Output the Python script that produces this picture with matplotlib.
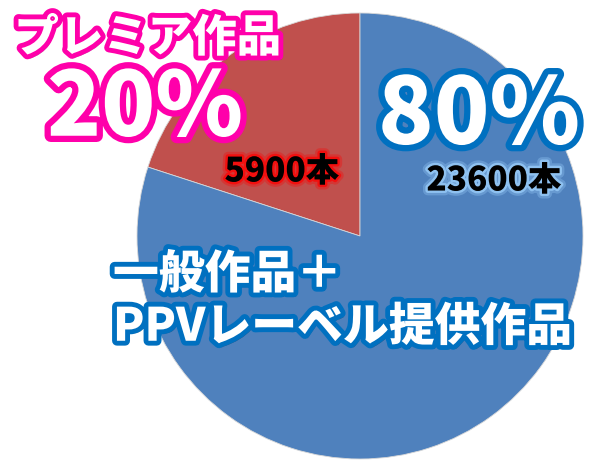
import matplotlib.pyplot as plt
import matplotlib.patheffects as pe

plt.rcParams['font.family'] = ['Noto Sans CJK JP', 'DejaVu Sans']

labels = ["一般作品＋\nPPVレーベル提供作品", "プレミア作品"]
counts = [23600, 5900]
colors = ["#4F81BD", "#C0504D"]

total = sum(counts)
pcts = [round(c / total * 100) for c in counts]

fig = plt.figure(figsize=(5.9, 4.7), dpi=100)
ax = fig.add_axes([0, 0, 1, 1])

# pie in pixel-like coordinates (y measured from bottom)
ax.pie(counts[::-1], colors=colors[::-1], startangle=90, counterclock=True,
       center=(360, 470 - 236), radius=223,
       wedgeprops=dict(linewidth=0.6, edgecolor="#d8d8d8"))
ax.set_xlim(0, 590)
ax.set_ylim(0, 470)
ax.set_aspect("equal")
ax.axis("off")


def fx(stroke_col, lw, shadow=True):
    effects = []
    if shadow:
        effects.append(pe.withSimplePatchShadow(offset=(2, -3), shadow_rgbFace="black", alpha=0.35))
    effects += [pe.Stroke(linewidth=lw, foreground=stroke_col), pe.Normal()]
    return effects


def glow(col):
    return [pe.Stroke(linewidth=7, foreground=col, alpha=0.3),
            pe.Stroke(linewidth=3.5, foreground=col, alpha=0.7), pe.Normal()]


W = "black"

# premium slice
ax.text(148, 470 - 38, labels[1], fontsize=32, fontweight=W, color="white",
        ha="center", va="center", path_effects=fx("#FF00AA", 7))
ax.text(145, 470 - 109, f"{pcts[1]}%", fontsize=64, fontweight=W, color="white",
        ha="center", va="center", path_effects=fx("#FF00AA", 9))
ax.text(282, 470 - 171, f"{counts[1]}本", fontsize=24, fontweight=W, color="black",
        ha="center", va="center", path_effects=glow("#FF0000"))

# general slice
ax.text(479, 470 - 116, f"{pcts[0]}%", fontsize=66, fontweight=W, color="white",
        ha="center", va="center", path_effects=fx("#0070C0", 9))
ax.text(494, 470 - 180, f"{counts[0]}本", fontsize=24, fontweight=W, color="black",
        ha="center", va="center", path_effects=glow("#9fd3ff"))
ax.text(113, 470 - 301, labels[0], fontsize=33, fontweight=W, color="white",
        ha="left", va="center", linespacing=1.15, path_effects=fx("#0070C0", 7))

fig.savefig("out.png", dpi=100)
